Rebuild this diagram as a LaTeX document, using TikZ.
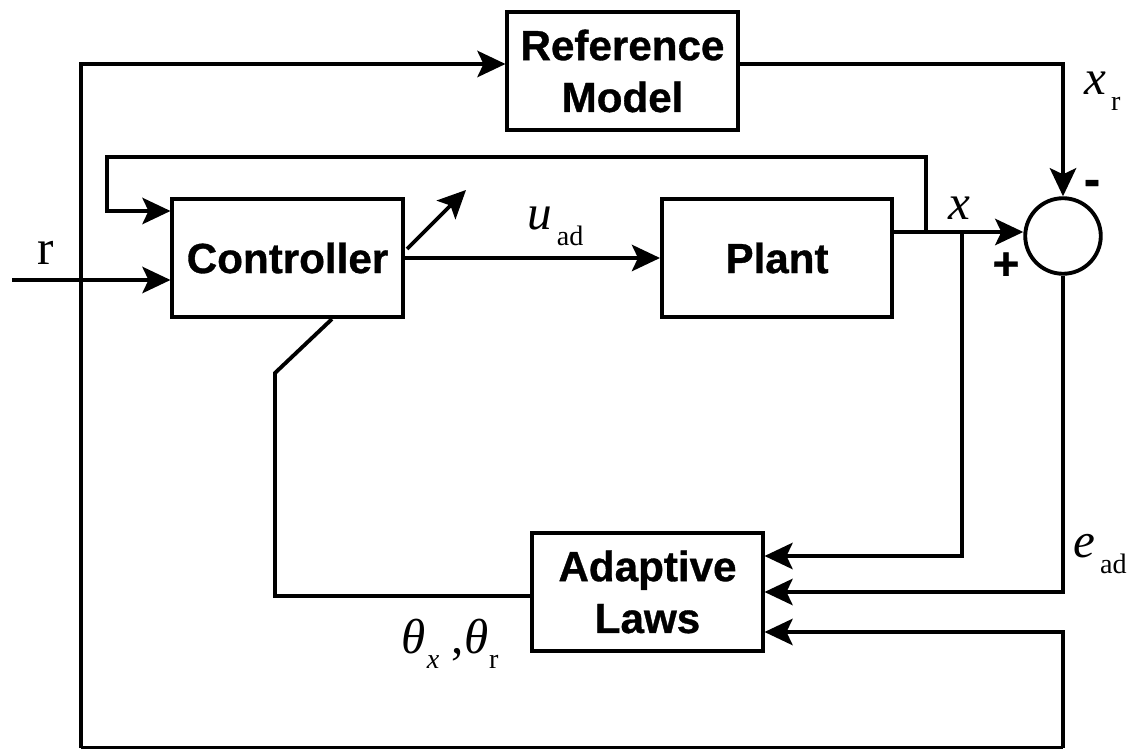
\documentclass[tikz,border=0pt]{standalone}
\usepackage{fontspec}
\setmainfont{Liberation Serif}
\setsansfont{Liberation Sans}
\newfontfamily\heavy{Liberation Sans Bold}[FakeBold=0.8]
\usetikzlibrary{arrows.meta}
\newcommand\mainsz{\fontsize{28}{28}\selectfont}
\newcommand\subsz{\fontsize{16}{16}\selectfont}
\newcommand\lblsub[2]{{\mainsz\itshape #1}\hspace{2.5pt}\raisebox{-9pt}{\subsz #2}}
\begin{document}
\begin{tikzpicture}[x=0.02cm,y=-0.02cm,line width=2.2pt,
  blk/.style={draw,line width=2.2pt,minimum width=131pt,minimum height=67pt,inner sep=0pt,
    font=\heavy\fontsize{24}{29.5}\selectfont,align=center},
  arr/.style={-{Stealth[length=16pt,width=15pt,inset=3.5pt]}},
  lab/.style={inner sep=0pt,anchor=base west}]
\useasboundingbox (0,0) rectangle (1136,749);
% blocks
\node[blk] (ref) at (622.5,71) {Reference\\Model};
\node[blk] (ctrl) at (287.5,258) {Controller};
\node[blk] (plant) at (777,258) {Plant};
\node[blk] (al) at (647.5,592) {Adaptive\\Laws};
\node[draw,circle,line width=2.2pt,minimum size=43pt,inner sep=0pt] (sum) at (1063,236) {};
% helper coordinates
\coordinate (rin) at (12,280);
\coordinate (lt) at (81,64);
\coordinate (bl) at (81,748);
\coordinate (br) at (1063,748);
\coordinate (py) at (0,232);
\coordinate (fb) at (926,232);
\coordinate (ft) at (926,157);
\coordinate (fl) at (107,157);
\coordinate (cy) at (0,211);
\coordinate (xb) at (962,232);
\coordinate (in1) at (0,556);
\coordinate (in3) at (0,632);
\coordinate (th) at (0,596);
\coordinate (tk) at (275,373);
\coordinate (cb) at (332,319);
\coordinate (adj1) at (407,249);
\coordinate (adj2) at (466,190);
% connectors
\draw[arr] (rin) -- (ctrl.west |- rin);
\draw[arr] (bl) -- (lt) -- (lt -| ref.west);
\draw[arr] (lt -| ref.east) -| (sum.north);
\draw (bl) -- (br);
\draw[arr] (ctrl.east) -- (plant.west);
\draw[arr] (plant.east |- py) -- (sum.west |- py);
\draw[arr] (fb) -- (ft) -- (fl) |- (ctrl.west |- cy);
\draw[arr] (xb) |- (al.east |- in1);
\draw[arr] (sum.south) |- (al.east);
\draw[arr] (br) |- (al.east |- in3);
\draw (al.west |- th) -| (tk) -- (cb);
\draw[arr] (adj1) -- (adj2);
% labels
\node[lab] (lr) at (36,265) {\mainsz r};
\node[lab] (lu) at (526,230) {\lblsub{u}{ad}};
\node[lab] (lx) at (947,220) {{\mainsz\itshape x}};
\node[lab] (lxr) at (1083,95) {\lblsub{x}{r}};
\node[lab] (le) at (1072,558) {\lblsub{e}{ad}};
\node[lab] (lth) at (400,653) {{\mainsz\itshape θ}\hspace{0.5pt}\raisebox{-9pt}{\subsz\itshape x}\hspace{7pt}{\mainsz ,\itshape θ}\hspace{0.5pt}\raisebox{-9pt}{\subsz r}};
\node[inner sep=0pt,font=\heavy\fontsize{26}{26}\selectfont] (plus) at (1006,266) {+};
\node[inner sep=0pt,font=\heavy\fontsize{28}{28}\selectfont] (minus) at (1092,188) {-};
\end{tikzpicture}
\end{document}
